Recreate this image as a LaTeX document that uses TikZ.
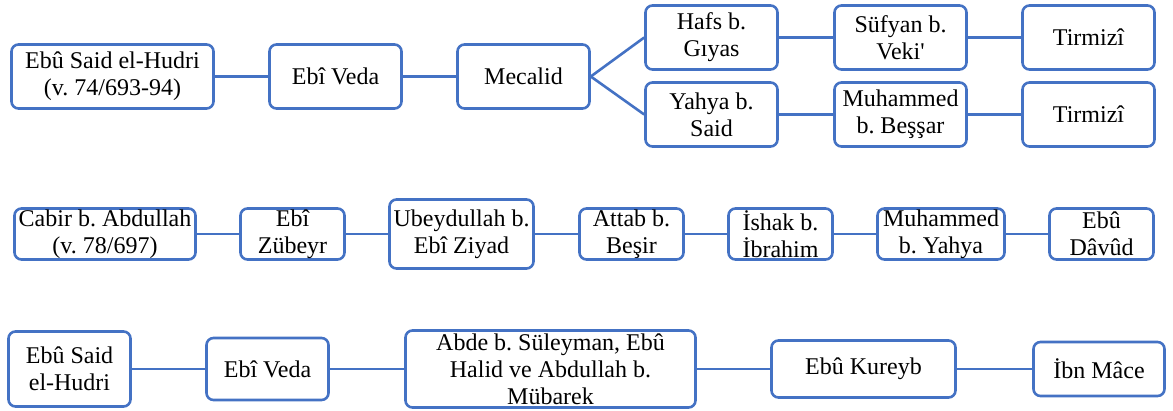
\documentclass[tikz,border=0pt]{standalone}
\usepackage{fontspec}
\setmainfont{Liberation Serif}
\frenchspacing
\definecolor{boxblue}{HTML}{4472C4}
\newcommand{\sqt}{\XeTeXglyph\XeTeXcharglyph"0027\relax}
\tikzset{
  bx/.style={draw=boxblue, line width=2.6pt, rounded corners=7pt, align=center,
    inner sep=0pt, fill=white, font=\fontsize{24}{27}\selectfont},
  ln/.style={draw=boxblue, line width=2.6pt}
}
\begin{document}
\begin{tikzpicture}[x=1pt,y=-1pt]
\useasboundingbox (0,0) rectangle (1173,410);
% Row 1
\node[bx, minimum width=202pt, minimum height=64pt] (a1) at (112.5,76.5) {Ebû Said el-Hudri\\(v. 74/693-94)};
\node[bx, minimum width=132pt, minimum height=64pt] (b1) at (335.5,76.5) {Ebî Veda};
\node[bx, minimum width=132pt, minimum height=64pt] (c1) at (523.5,76.5) {Mecalid};
\node[bx, minimum width=132pt, minimum height=64pt] (h1) at (711.5,37.5) {Hafs b.\\Gıyas};
\node[bx, minimum width=132pt, minimum height=64pt] (y1) at (711.5,114.5) {Yahya b.\\Said};
\node[bx, minimum width=132pt, minimum height=64pt] (s1) at (900.5,37.5) {Süfyan b.\\Veki\sqt};
\node[bx, minimum width=132pt, minimum height=64pt] (m1) at (900.5,114.5) {Muhammed\\b. Beşşar};
\node[bx, minimum width=132pt, minimum height=64pt] (t1) at (1088.5,37.5) {Tirmizî};
\node[bx, minimum width=132pt, minimum height=64pt] (t2) at (1088.5,114.5) {Tirmizî};
\draw[ln] (a1) -- (b1);
\draw[ln] (b1) -- (c1);
\draw[ln] (c1.east) -- (h1.west);
\draw[ln] (c1.east) -- (y1.west);
\draw[ln] (h1) -- (s1);
\draw[ln] (s1) -- (t1);
\draw[ln] (y1) -- (m1);
\draw[ln] (m1) -- (t2);
% Row 2
\node[bx, minimum width=181pt, minimum height=51pt] (a2) at (105,234) {Cabir b. Abdullah\\(v. 78/697)};
\node[bx, minimum width=104pt, minimum height=51pt] (b2) at (292.5,234) {Ebî\\Zübeyr};
\node[bx, minimum width=144pt, minimum height=69pt] (c2) at (461.5,234) {Ubeydullah b.\\Ebî Ziyad};
\node[bx, minimum width=104pt, minimum height=51pt] (d2) at (631.5,234) {Attab b.\\Beşir};
\node[bx, minimum width=104pt, minimum height=51pt] (e2) at (780.5,234) {İshak b.\\İbrahim};
\node[bx, minimum width=127pt, minimum height=51pt] (f2) at (941,234) {Muhammed\\b. Yahya};
\node[bx, minimum width=104pt, minimum height=51pt] (g2) at (1101.5,234) {Ebû\\Dâvûd};
\draw[ln] (a2) -- (b2);
\draw[ln] (b2) -- (c2);
\draw[ln] (c2) -- (d2);
\draw[ln] (d2) -- (e2);
\draw[ln] (e2) -- (f2);
\draw[ln] (f2) -- (g2);
% Row 3
\node[bx, minimum width=122pt, minimum height=75pt] (a3) at (69.5,369) {Ebû Said\\el-Hudri};
\node[bx, minimum width=122pt, minimum height=62pt] (b3) at (267.5,369) {Ebî Veda};
\node[bx, minimum width=290pt, minimum height=77pt] (c3) at (550.5,369) {Abde b. Süleyman, Ebû\\Halid ve Abdullah b.\\Mübarek};
\node[bx, minimum width=184pt, minimum height=57pt] (d3) at (863.5,369) {Ebû Kureyb};
\node[bx, minimum width=131pt, minimum height=54pt] (e3) at (1099,369) {İbn Mâce};
\draw[ln] (a3) -- (b3);
\draw[ln] (b3) -- (c3);
\draw[ln] (c3) -- (d3);
\draw[ln] (d3) -- (e3);
\end{tikzpicture}
\end{document}
